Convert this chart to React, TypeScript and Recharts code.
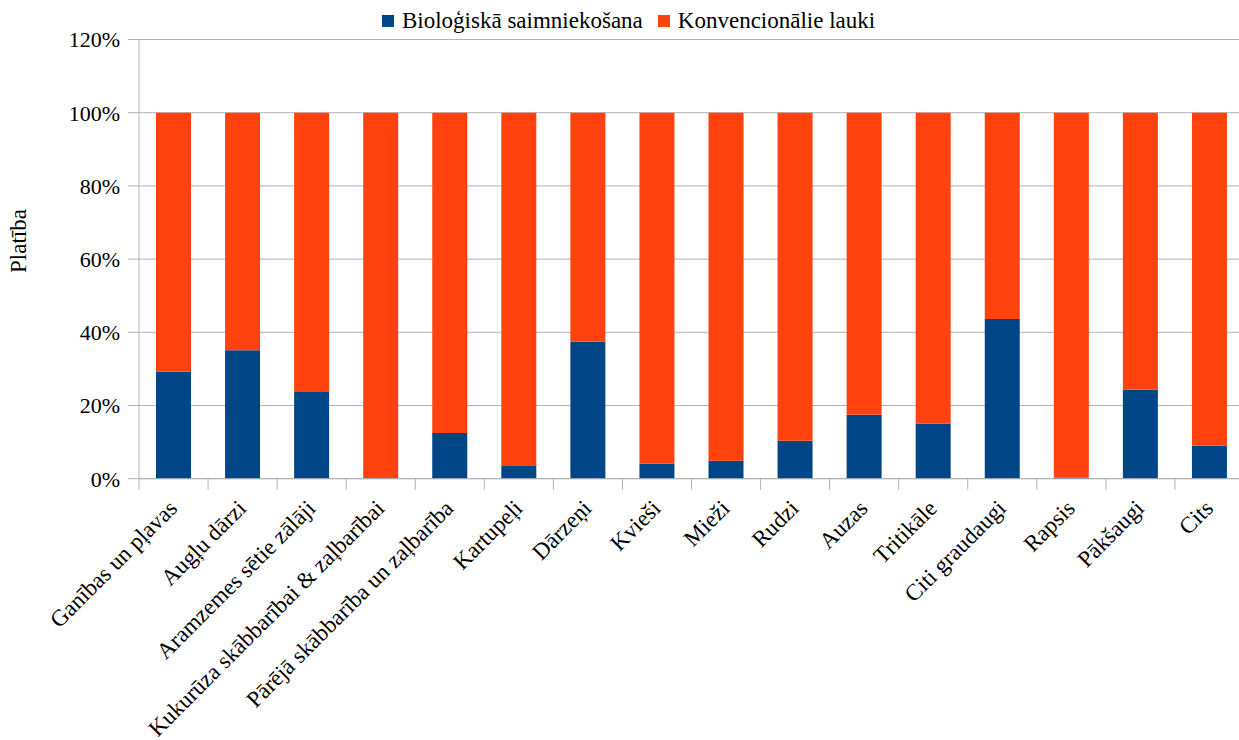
import React from 'react';
import { BarChart, Bar, XAxis, YAxis, CartesianGrid, Legend } from 'recharts';

const categories = [
  'Ganības un pļavas',
  'Augļu dārzi',
  'Aramzemes sētie zālāji',
  'Kukurūza skābbarībai & zaļbarībai',
  'Pārējā skābbarība un zaļbarība',
  'Kartupeļi',
  'Dārzeņi',
  'Kvieši',
  'Mieži',
  'Rudzi',
  'Auzas',
  'Tritikāle',
  'Citi graudaugi',
  'Rapsis',
  'Pākšaugi',
  'Cits',
];
const organic = [29.2, 35.1, 23.7, 0.1, 12.5, 3.5, 37.4, 4.1, 4.9, 10.4, 17.5, 15.0, 43.6, 0.3, 24.3, 9.0];
const conventional = [70.8, 64.9, 76.3, 99.9, 87.5, 96.5, 62.6, 95.9, 95.1, 89.6, 82.5, 85.0, 56.4, 99.7, 75.7, 91.0];
const yTicks = [0, 20, 40, 60, 80, 100, 120];
const seriesNames = ['Bioloģiskā saimniekošana', 'Konvencionālie lauki'];
const colors = ['#004586', '#ff420e'];

const data = categories.map((c, i) => ({ name: c, bio: organic[i], conv: conventional[i] }));

const FONT = '"Liberation Serif", serif';
const GRID = '#b3b3b3';
const CHART_W = 1244;
const PLOT_LEFT = 139;
const BAND = (CHART_W - PLOT_LEFT) / categories.length;

const XTick = (props: any) => {
  const { x, y, payload, index } = props;
  const ax = y - 8;
  const tx = x + 5;
  const ty = ax + 31;
  return (
    <g>
      <line x1={x - BAND / 2} y1={ax} x2={x - BAND / 2} y2={ax + 11} stroke={GRID} />
      {index === categories.length - 1 && (
        <line x1={x + BAND / 2} y1={ax} x2={x + BAND / 2} y2={ax + 11} stroke={GRID} />
      )}
      <text
        x={tx}
        y={ty}
        transform={`rotate(-45 ${tx} ${ty})`}
        textAnchor="end"
        fontFamily={FONT}
        fontSize={23}
        fill="#000"
      >
        {payload.value}
      </text>
    </g>
  );
};

const LegendContent = () => (
  <div style={{ display: 'flex', alignItems: 'center', fontFamily: FONT, fontSize: 23, lineHeight: '24px', color: '#000', whiteSpace: 'nowrap' }}>
    {seriesNames.map((n, i) => (
      <div key={n} style={{ display: 'flex', alignItems: 'center', marginRight: i === 0 ? 15 : 0 }}>
        <div style={{ width: 12, height: 12, background: colors[i], marginRight: 8 }} />
        <span>{n}</span>
      </div>
    ))}
  </div>
);

export default function App() {
  return (
    <div style={{ position: 'absolute', left: 0, top: 0, width: 1239, height: 740, overflow: 'hidden', background: '#fff' }}>
      <BarChart
        width={CHART_W}
        height={740}
        data={data}
        margin={{ top: 39.5, right: 0, left: 0, bottom: 10 }}
        barSize={35}
      >
        <CartesianGrid vertical={false} stroke={GRID} />
        <Legend
          layout="horizontal"
          verticalAlign="middle"
          align="center"
          content={<LegendContent />}
          wrapperStyle={{ position: 'absolute', top: 9, left: 382, width: 'auto', height: 'auto' }}
        />
        <XAxis
          dataKey="name"
          interval={0}
          tick={<XTick />}
          tickLine={false}
          axisLine={{ stroke: GRID }}
          height={251.3}
        />
        <YAxis
          domain={[0, 120]}
          ticks={yTicks}
          interval={0}
          width={139}
          tickFormatter={(v: number) => `${v}%`}
          tick={{ fontFamily: FONT, fontSize: 22, fill: '#000' }}
          tickLine={{ stroke: GRID }}
          tickSize={11}
          tickMargin={8}
          axisLine={{ stroke: GRID }}
          label={{
            content: () => (
              <text
                x={18}
                y={241}
                transform="rotate(-90 18 241)"
                textAnchor="middle"
                dominantBaseline="central"
                fontFamily={FONT}
                fontSize={23}
                fill="#000"
              >
                Platība
              </text>
            ),
          }}
        />
        <Bar dataKey="bio" stackId="a" fill={colors[0]} isAnimationActive={false} />
        <Bar dataKey="conv" stackId="a" fill={colors[1]} isAnimationActive={false} />
      </BarChart>
    </div>
  );
}
